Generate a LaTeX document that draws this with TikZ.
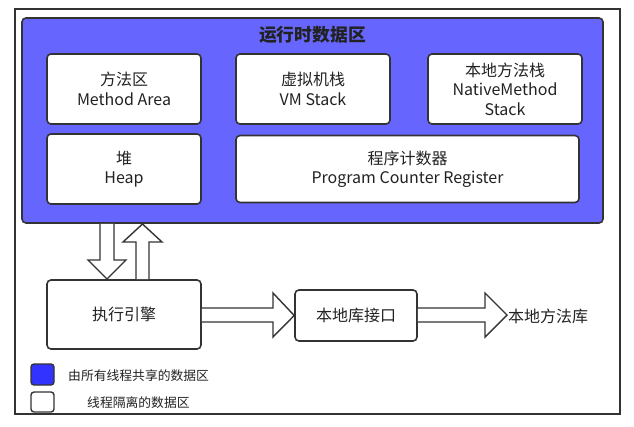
\documentclass[tikz,border=0pt]{standalone}
\usepackage{fontspec}
\setmainfont{Noto Sans CJK SC}
\usetikzlibrary{calc}
\definecolor{shared}{HTML}{6666FF}
\definecolor{legendblue}{HTML}{3333FF}
\definecolor{edge}{HTML}{333333}
\definecolor{ink}{HTML}{222222}
\tikzset{
  box/.style={draw=edge, line width=1.6pt, fill=white, rounded corners=4pt, inner sep=0pt,
    align=center, text=ink, font=\fontsize{16}{19.5}\selectfont},
  blockarrow/.style={draw=edge, line width=1.4pt, fill=white, line join=miter},
  legendtext/.style={text=ink, inner sep=0pt, anchor=west, font=\fontsize{12.8}{15}\selectfont},
}
\begin{document}
\begin{tikzpicture}[x=1pt,y=-1pt]
\useasboundingbox (0,0) rectangle (634,426);
% outer frame
\draw[draw=edge, line width=1.6pt, fill=white] (15,9) rectangle (620,414);
% shared area
\draw[draw=edge, line width=1.6pt, fill=shared, rounded corners=4pt] (22,18) rectangle (603,223);
\node[text=ink, font=\fontsize{17.8}{20}\bfseries] (title) at (312.5,35) {运行时数据区};
% inner boxes
\node[box, minimum width=154pt, minimum height=70pt] (method) at (124,89) {方法区\\Method Area};
\node[box, minimum width=154pt, minimum height=70pt] (vm) at (313,89) {虚拟机栈\\VM Stack};
\node[box, minimum width=154pt, minimum height=70pt] (native) at (505,89) {本地方法栈\\NativeMethod\\Stack};
\node[box, minimum width=154pt, minimum height=70pt] (heap) at (124,169) {堆\\Heap};
\node[box, minimum width=343pt, minimum height=67pt] (pc) at (407.5,169) {程序计数器\\Program Counter Register};
% engine and interface
\node[box, minimum width=154pt, minimum height=69pt] (engine) at (124,314.5) {执行引擎};
\node[box, minimum width=122pt, minimum height=51pt] (jni) at (356,315.5) {本地库接口};
\node[text=ink, inner sep=0pt, anchor=west, font=\fontsize{16}{19}\selectfont] (lib) at (508,316) {本地方法库};
% block arrows
\draw[blockarrow] (100,223.8) -- (100,260) -- (88,260) -- (107,279) -- (126,260) -- (114,260) -- (114,223.8);
\draw[blockarrow] (136,279) -- (136,242) -- (123,242) -- (142.5,224) -- (162,242) -- (149,242) -- (149,279);
\draw[blockarrow] (engine.east |- 0,308) -- (273,308) -- (273,293) -- (jni.west) -- (273,337) -- (273,322) -- (engine.east |- 0,322);
\draw[blockarrow] (jni.east |- 0,308) -- (485,308) -- (485,293) -- (507,315) -- (485,337) -- (485,322) -- (jni.east |- 0,322);
% legend
\node[draw=edge, line width=1.4pt, fill=legendblue, rounded corners=3pt, minimum width=23pt, minimum height=21pt, inner sep=0pt] (legshared) at (42.5,374.5) {};
\node[draw=edge, line width=1.4pt, fill=white, rounded corners=3pt, minimum width=23pt, minimum height=20pt, inner sep=0pt] (legprivate) at (42.5,402) {};
\node[legendtext] (legsharedtext) at (68,376) {由所有线程共享的数据区};
\node[legendtext] (legprivatetext) at (87,403) {线程隔离的数据区};
\end{tikzpicture}
\end{document}
